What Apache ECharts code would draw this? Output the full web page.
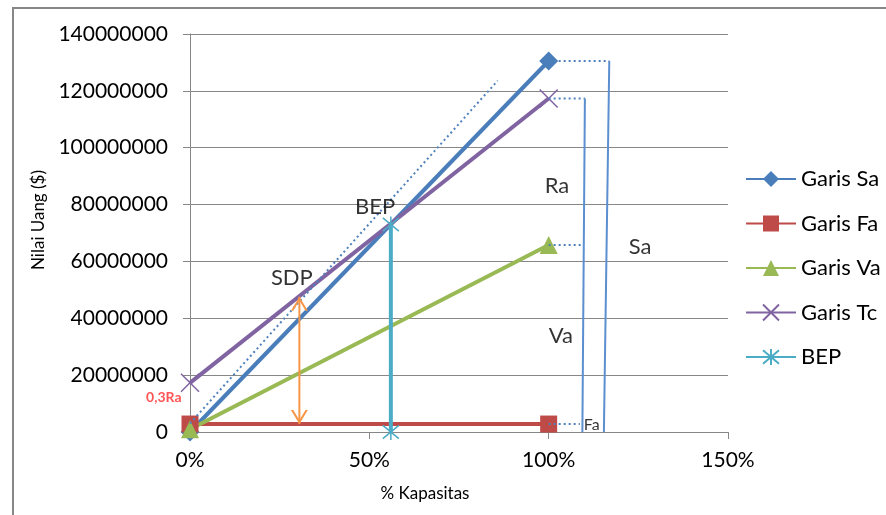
<!DOCTYPE html>
<html>
<head>
<meta charset="utf-8">
<script src="https://cdn.jsdelivr.net/npm/echarts@6/dist/echarts.min.js"></script>
<style>
html,body{margin:0;padding:0;background:#fff;}
#chart{width:886px;height:515px;}
</style>
</head>
<body>
<div id="chart"></div>
<script>
// ---- data (x = fraction of capacity, y = money value) ----
const legendNames = ['Garis Sa', 'Garis Fa', 'Garis Va', 'Garis Tc', 'BEP'];
const garisSa = [[0, 0], [1, 130500000]];
const garisFa = [[0, 2800000], [1, 2800000]];
const garisVa = [[0, 1000000], [1, 65800000]];
const garisTc = [[0, 17300000], [1, 117300000]];
const bepLine = [[0.56, 0], [0.56, 73000000]];
// drawn annotation shapes (in data units)
const dottedGuide = [[0, 3000000], [0.858, 123600000]];
const sdpArrow = [[0.305, 47600000], [0.305, 2800000]];
const saConnector = [[1, 130500000], [1.169, 130500000]];
const saBracket = [[1.169, 130500000], [1.154, 0]];
const tcConnector = [[1, 117300000], [1.101, 117300000]];
const raBracket = [[1.101, 117300000], [1.094, 0]];
const vaConnector = [[1, 65800000], [1.098, 65800000]];
const faConnector = [[1, 2800000], [1.087, 2800000]];
const annotationText = ['BEP', 'SDP', 'Ra', 'Va', 'Sa', 'Fa', '0,3Ra'];
const annotationX = [0.516, 0.284, 1.023, 1.034, 1.255, 1.12, -0.073];
const annotationY = [79100000, 54200000, 86500000, 33800000, 65100000, 2500000, 12300000];

const FONT = 'Lato, "Liberation Sans", sans-serif';
const GRID = '#878787';

const crossPath = 'path://M0,0L10,10M10,0L0,10';
const starPath = 'path://M0,0L10,10M10,0L0,10M5,-1L5,11';
const upHead = 'path://M0,10L5,0L10,10L8.6,10L5,2.8L1.4,10Z';
const downHead = 'path://M0,0L5,10L10,0L8.6,0L5,7.2L1.4,0Z';

function mainLine(name, data, color, symbol, size, extra) {
  return Object.assign({
    name: name, type: 'line', data: data,
    symbol: symbol, symbolSize: size, showSymbol: true,
    lineStyle: {color: color, width: 4},
    itemStyle: {color: color},
    clip: false
  }, extra || {});
}
function shape(data, style) {
  return {type: 'line', data: data, symbol: 'none', silent: true, clip: false,
          lineStyle: Object.assign({color: '#4f81bd', width: 2}, style), z: 5};
}
const dots = {type: [2, 3], width: 2, color: '#4f81bd'};

const annData = annotationText.map((t, i) => {
  const item = {value: [annotationX[i], annotationY[i]], label: {formatter: t}};
  if (t === 'Fa') item.label.fontSize = 16;
  if (t === '0,3Ra') { item.label.fontSize = 14; item.label.color = '#ff2a2a'; item.label.fontWeight = 'bold'; }
  return item;
});

const chart = echarts.init(document.getElementById('chart'));
chart.setOption({
  animation: false,
  backgroundColor: '#fff',
  textStyle: {fontFamily: FONT},
  grid: {left: 190, right: 158, top: 34, bottom: 83},
  legend: {
    data: legendNames, orient: 'vertical', left: 745, top: 168,
    itemWidth: 50, itemHeight: 20, itemGap: 22.5,
    textStyle: {fontSize: 22, color: '#000', fontFamily: FONT, lineHeight: 20},
    padding: 0
  },
  xAxis: {
    type: 'value', min: 0, max: 1.5, interval: 0.5,
    name: '% Kapasitas', nameLocation: 'middle', nameGap: 53,
    nameTextStyle: {fontSize: 17, color: '#000', padding: [0, 68, 0, 0]},
    axisLine: {show: true, lineStyle: {color: GRID, width: 1}},
    axisTick: {show: true, length: 7, lineStyle: {color: GRID}},
    axisLabel: {fontSize: 21, color: '#000', margin: 18,
                formatter: v => Math.round(v * 100) + '%'},
    splitLine: {show: false}
  },
  yAxis: {
    type: 'value', min: 0, max: 140000000, interval: 20000000,
    name: 'Nilai Uang ($)', nameLocation: 'middle', nameGap: 139, nameRotate: 90,
    nameTextStyle: {fontSize: 17, color: '#000', padding: [0, 0, 0, 26]},
    axisLine: {show: true, lineStyle: {color: GRID, width: 1}},
    axisTick: {show: true, length: 7, lineStyle: {color: GRID}},
    axisLabel: {fontSize: 21, color: '#000', margin: 22, formatter: v => String(v)},
    splitLine: {show: true, lineStyle: {color: GRID, width: 1}}
  },
  graphic: [{
    type: 'rect', silent: true, z: 100,
    shape: {x: 13, y: 8, width: 1000, height: 700},
    style: {fill: 'none', stroke: GRID, lineWidth: 2}
  }],
  series: [
    mainLine('Garis Sa', garisSa, '#4a7ebb', 'diamond', [19, 19]),
    mainLine('Garis Fa', garisFa, '#be4b48', 'rect', 17),
    mainLine('Garis Va', garisVa, '#98b954', 'triangle', 18),
    mainLine('Garis Tc', garisTc, '#8064a2', crossPath, 18,
      {itemStyle: {color: '#8064a2', borderColor: '#8064a2', borderWidth: 1.5}}),
    mainLine('BEP', bepLine, '#4bacc6', starPath, 16,
      {itemStyle: {color: '#4bacc6', borderColor: '#4bacc6', borderWidth: 1.5}}),
    shape(dottedGuide, dots),
    shape(saConnector, dots),
    shape(tcConnector, dots),
    shape(vaConnector, dots),
    shape(faConnector, dots),
    shape(saBracket, {color: '#5b8fd0', width: 2}),
    shape(raBracket, {color: '#5b8fd0', width: 2}),
    {
      type: 'line', silent: true, clip: false, z: 6,
      data: [
        {value: sdpArrow[0], symbol: upHead, symbolSize: [17, 14], symbolOffset: [0, '50%']},
        {value: sdpArrow[1], symbol: downHead, symbolSize: [17, 14], symbolOffset: [0, '-50%']}
      ],
      showSymbol: true,
      lineStyle: {color: '#f79646', width: 2},
      itemStyle: {color: '#f79646'}
    },
    {
      type: 'scatter', silent: true, clip: false, z: 7,
      data: annData, symbolSize: 1,
      itemStyle: {color: 'rgba(0,0,0,0)'},
      label: {show: true, position: 'inside', fontSize: 22, color: '#000', fontFamily: FONT}
    }
  ]
});
</script>
</body>
</html>
